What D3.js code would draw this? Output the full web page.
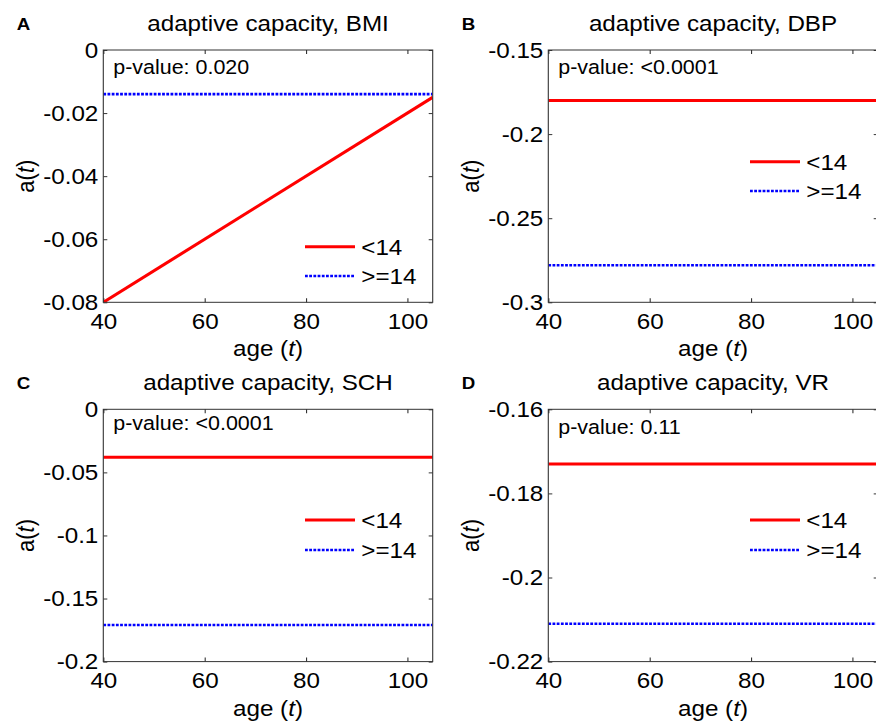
<!DOCTYPE html>
<html>
<head>
<meta charset="utf-8">
<script src="https://cdn.jsdelivr.net/npm/d3@7"></script>
<style>
  html, body { margin: 0; padding: 0; background: #fff; }
  svg { display: block; }
  text { font-family: "Liberation Sans", Arial, Helvetica, sans-serif; fill: #000; }
</style>
</head>
<body>
<svg id="chart"></svg>
<script>
// ---- data ----
const panelLetters = ["A", "B", "C", "D"];
const panelTitles = ["adaptive capacity, BMI", "adaptive capacity, DBP", "adaptive capacity, SCH", "adaptive capacity, VR"];
const pValueLabels = ["p-value: 0.020", "p-value: <0.0001", "p-value: <0.0001", "p-value: 0.11"];
const seriesNames = ["<14", ">=14"];
const ages = [40, 105];
const below14 = [[-0.080, -0.015], [-0.180, -0.180], [-0.038, -0.038], [-0.173, -0.173]];
const atLeast14 = [[-0.014, -0.014], [-0.278, -0.278], [-0.171, -0.171], [-0.211, -0.211]];
const xDomain = [40, 105];
const xTickValues = [40, 60, 80, 100];
const yDomains = [[-0.08, 0], [-0.3, -0.15], [-0.2, 0], [-0.22, -0.16]];
const yTickValues = [
  [0, -0.02, -0.04, -0.06, -0.08],
  [-0.15, -0.2, -0.25, -0.3],
  [0, -0.05, -0.1, -0.15, -0.2],
  [-0.16, -0.18, -0.2, -0.22]
];
const yTickLabels = [
  ["0", "-0.02", "-0.04", "-0.06", "-0.08"],
  ["-0.15", "-0.2", "-0.25", "-0.3"],
  ["0", "-0.05", "-0.1", "-0.15", "-0.2"],
  ["-0.16", "-0.18", "-0.2", "-0.22"]
];

// ---- layout (screen pixels; the drawing is widened horizontally by SX) ----
const W = 876, H = 721, SX = 1.1;
const colLeft = [103.3, 548.3];
const rowTop = [50, 409.3];
const plotW = 329.4, plotH = 252.3;
const pTextOffset = [24, 24, 20.7, 24.7];
const legendRows = [[196.7, 226], [111.7, 141], [110.7, 140.7], [110.7, 140.7]];
const frameColor = "#333";
const seriesColors = ["#ff0000", "#0000ff"];

const svg = d3.select("#chart")
  .attr("width", W)
  .attr("height", H)
  .attr("viewBox", `0 0 ${W / SX} ${H}`)
  .attr("preserveAspectRatio", "none");

const vx = v => v / SX; // screen x -> drawing x

panelLetters.forEach((letter, i) => {
  const col = i % 2, row = Math.floor(i / 2);
  const left = colLeft[col], top = rowTop[row];

  const x = d3.scaleLinear().domain(xDomain).range([0, vx(plotW)]);
  const y = d3.scaleLinear().domain(yDomains[i]).range([plotH, 0]);

  const g = svg.append("g").attr("transform", `translate(${vx(left)},${top})`);

  const clipId = "clip" + letter;
  g.append("clipPath").attr("id", clipId)
    .append("rect").attr("width", vx(plotW)).attr("height", plotH);

  // axes with inward ticks on all four sides
  const axes = [
    { axis: d3.axisLeft(y).tickValues(yTickValues[i]).tickFormat((d, k) => yTickLabels[i][k])
        .tickSize(-vx(4)).tickPadding(vx(5)), t: "translate(0,0)" },
    { axis: d3.axisRight(y).tickValues(yTickValues[i]).tickFormat("").tickSize(-vx(4)),
        t: `translate(${vx(plotW)},0)` },
    { axis: d3.axisBottom(x).tickValues(xTickValues).tickSize(-4).tickPadding(11),
        t: `translate(0,${plotH})` },
    { axis: d3.axisTop(x).tickValues(xTickValues).tickFormat("").tickSize(-4),
        t: "translate(0,0)" }
  ];
  axes.forEach(a => {
    const ag = g.append("g").attr("transform", a.t).call(a.axis);
    ag.select(".domain").remove();
    ag.selectAll(".tick line").attr("stroke", frameColor).attr("stroke-width", 1);
    ag.selectAll(".tick text")
      .attr("fill", "#000")
      .attr("font-size", 22)
      .attr("font-family", '"Liberation Sans", Arial, Helvetica, sans-serif');
  });

  // data lines
  const line = d3.line().x((d, k) => x(ages[k])).y(d => y(d));
  const lines = g.append("g").attr("clip-path", `url(#${clipId})`);
  lines.append("path").datum(atLeast14[i])
    .attr("d", line)
    .attr("fill", "none")
    .attr("stroke", seriesColors[1])
    .attr("stroke-width", 2.6)
    .attr("stroke-dasharray", `${vx(2.8)},${vx(1.4)}`);
  lines.append("path").datum(below14[i])
    .attr("d", line)
    .attr("fill", "none")
    .attr("stroke", seriesColors[0])
    .attr("stroke-width", 3);

  // frame
  g.append("rect")
    .attr("width", vx(plotW)).attr("height", plotH)
    .attr("fill", "none").attr("stroke", frameColor).attr("stroke-width", 1);

  // p-value annotation
  g.append("text")
    .attr("x", vx(10)).attr("y", pTextOffset[i])
    .attr("font-size", 19.5)
    .text(pValueLabels[i]);

  // legend
  seriesNames.forEach((name, s) => {
    const ly = legendRows[i][s];
    g.append("line")
      .attr("x1", vx(201.7)).attr("x2", vx(251.7))
      .attr("y1", ly).attr("y2", ly)
      .attr("stroke", seriesColors[s])
      .attr("stroke-width", s === 0 ? 3 : 2.6)
      .attr("stroke-dasharray", s === 0 ? null : `${vx(2.8)},${vx(1.4)}`);
    g.append("text")
      .attr("x", vx(258)).attr("y", ly + 8)
      .attr("font-size", 22)
      .text(name);
  });

  // title and panel letter
  g.append("text")
    .attr("x", vx(plotW / 2)).attr("y", -19.5)
    .attr("text-anchor", "middle")
    .attr("font-size", 22)
    .text(panelTitles[i]);
  g.append("text")
    .attr("x", vx(-86.5)).attr("y", -20)
    .attr("font-size", 17)
    .attr("font-weight", "bold")
    .text(letter);

  // axis labels
  const xl = g.append("text")
    .attr("x", vx(plotW / 2)).attr("y", plotH + 54)
    .attr("text-anchor", "middle")
    .attr("font-size", 22);
  xl.append("tspan").text("age (");
  xl.append("tspan").attr("font-style", "italic").text("t");
  xl.append("tspan").text(")");

  const yl = g.append("text")
    .attr("transform", `translate(${vx(-69.5)},${plotH / 2}) rotate(-90)`)
    .attr("text-anchor", "middle")
    .attr("font-size", 22);
  yl.append("tspan").text("a(");
  yl.append("tspan").attr("font-style", "italic").text("t");
  yl.append("tspan").text(")");
});
</script>
</body>
</html>
